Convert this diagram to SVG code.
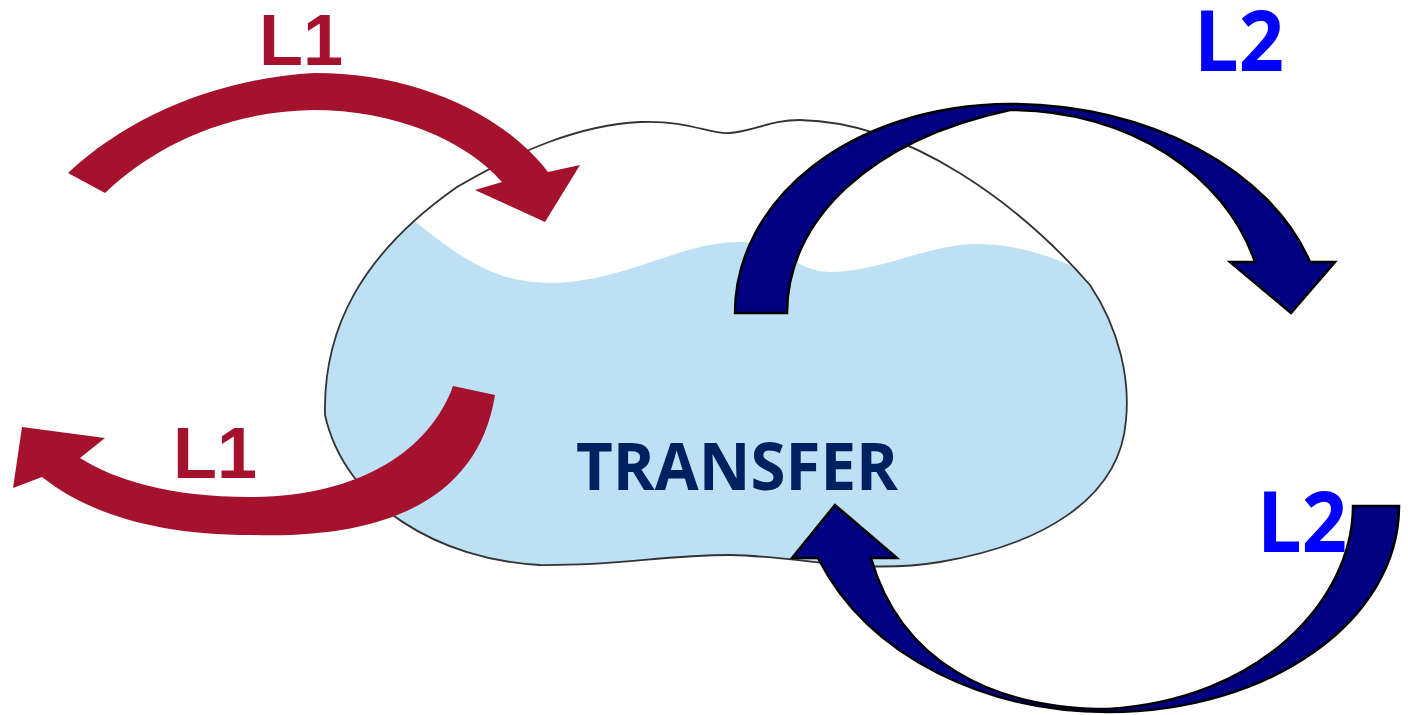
<svg xmlns="http://www.w3.org/2000/svg" width="1408" height="715" viewBox="0 0 1408 715">
  <style>
    .red { fill: #A5122D; }
    .blue { fill: #000080; stroke: #000; stroke-width: 2.5; stroke-linejoin: miter; }
    .l1 { font-family: "Liberation Sans", Arial, sans-serif; font-weight: bold; font-size: 72px; fill: #A5122D; }
    .l2 { font-family: "Open Sans", "Liberation Sans", sans-serif; font-weight: bold; font-size: 85px; fill: #0000FF; }
    .main { font-family: "Open Sans", "Liberation Sans", sans-serif; font-weight: bold; font-size: 67px; fill: #002060; }
  </style>
  <defs>
    <clipPath id="blobClip">
      <path d="M325,415 C323,330 360,255 457,187 C520,150 580,125 640,122 C690,120 710,135 730,133 C755,131 770,120 800,120 C910,122 1020,205 1090,285 C1120,330 1130,380 1126,420 C1120,500 1040,545 940,562 C860,575 800,556 730,555 C660,555 620,566 540,565 C440,560 345,505 325,415 Z"/>
    </clipPath>
  </defs>
  <rect width="1408" height="715" fill="#fff"/>

  <g id="transfer">
    <path d="M325,415 C323,330 360,255 457,187 C520,150 580,125 640,122 C690,120 710,135 730,133 C755,131 770,120 800,120 C910,122 1020,205 1090,285 C1120,330 1130,380 1126,420 C1120,500 1040,545 940,562 C860,575 800,556 730,555 C660,555 620,566 540,565 C440,560 345,505 325,415 Z" fill="#fff"/>
    <path clip-path="url(#blobClip)" fill="#BDE0F5" d="M395,205 C450,250 490,285 555,283 C630,280 680,242 740,242 C780,242 795,272 830,272 C880,272 930,244 975,244 C1020,244 1060,258 1100,280 L1140,280 L1140,600 L300,600 L300,205 Z"/>
    <path d="M325,415 C323,330 360,255 457,187 C520,150 580,125 640,122 C690,120 710,135 730,133 C755,131 770,120 800,120 C910,122 1020,205 1090,285 C1120,330 1130,380 1126,420 C1120,500 1040,545 940,562 C860,575 800,556 730,555 C660,555 620,566 540,565 C440,560 345,505 325,415 Z" fill="none" stroke="#333" stroke-width="1.8"/>
    <text class="main" x="576" y="490" textLength="322" lengthAdjust="spacingAndGlyphs">TRANSFER</text>
  </g>

  <g id="connectors">
    <path id="l1-in" class="red" d="M68,173 C130,115 220,78 315,73 C410,73 500,110 548,172 L580,165 L545,222 L475,190 L502,182 C465,140 395,110 312,110 C220,112 150,150 105,193 Z"/>
    <path id="l1-out" class="red" d="M453,386 C430,450 360,497 250,497 C170,497 115,480 80,458 L105,438 L22,427 L13,488 L42,477 C90,515 160,535 250,535 C400,540 480,490 495,395 Z"/>
    <path id="l2-out" class="blue" d="M735,313 C735,200 850,105 1010,104 C1150,104 1270,170 1310,262 L1335,262 L1291,313 L1230,262 L1255,262 C1225,175 1130,110 1010,110 C870,140 787,220 787,313 Z"/>
    <path id="l2-in" class="blue" d="M1353,506 L1399,506 C1399,620 1270,712 1108,712 C990,712 870,660 818,558 L792,558 L835,505 L897,558 L871,558 C900,660 990,709 1108,709 C1260,700 1353,600 1353,506 Z"/>
  </g>

  <g id="label-l1-top"><text class="l1" x="259" y="65">L1</text></g>
  <g id="label-l1-bottom"><text class="l1" x="173" y="478">L1</text></g>
  <g id="label-l2-top"><text class="l2" x="1194" y="71" textLength="90" lengthAdjust="spacingAndGlyphs">L2</text></g>
  <g id="label-l2-bottom"><text class="l2" x="1257" y="552" textLength="90" lengthAdjust="spacingAndGlyphs">L2</text></g>
</svg>
